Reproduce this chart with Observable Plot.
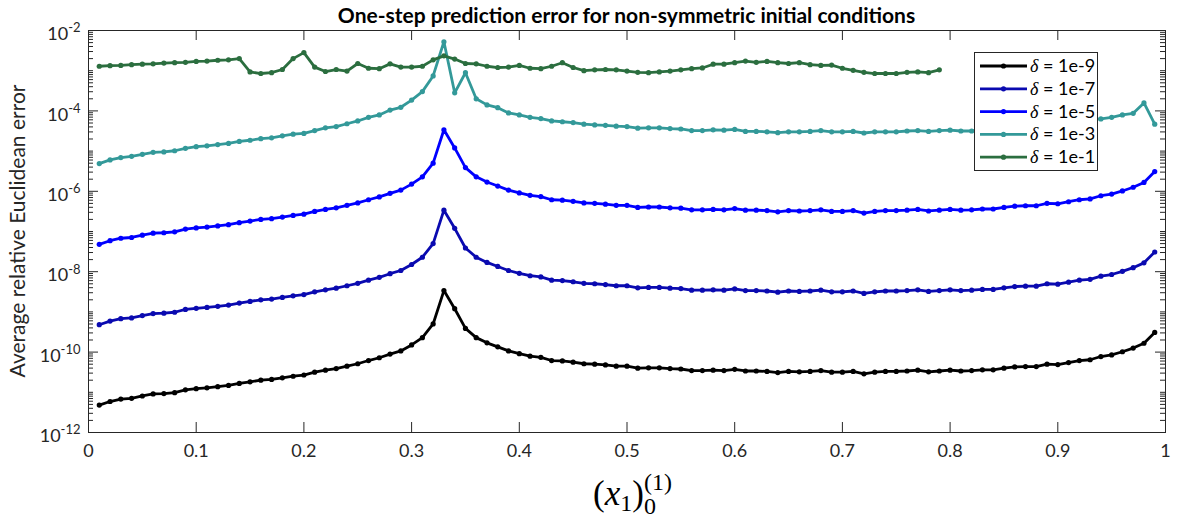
<!DOCTYPE html>
<html><head><meta charset="utf-8">
<script src="https://cdn.jsdelivr.net/npm/d3@7"></script>
<script src="https://cdn.jsdelivr.net/npm/@observablehq/plot@0.6"></script>
<style>
html,body{margin:0;padding:0;background:#fff;}
#chart{position:relative;width:1178px;height:517px;}
</style></head><body><div id="chart"></div>
<script>
// initial condition (x1)_0^(1)
const x0 = [0.01,0.02,0.03,0.04,0.05,0.06,0.07,0.08,0.09,0.10,0.11,0.12,0.13,0.14,0.15,0.16,0.17,0.18,0.19,0.20,
0.21,0.22,0.23,0.24,0.25,0.26,0.27,0.28,0.29,0.30,0.31,0.32,0.33,0.34,0.35,0.36,0.37,0.38,0.39,0.40,
0.41,0.42,0.43,0.44,0.45,0.46,0.47,0.48,0.49,0.50,0.51,0.52,0.53,0.54,0.55,0.56,0.57,0.58,0.59,0.60,
0.61,0.62,0.63,0.64,0.65,0.66,0.67,0.68,0.69,0.70,0.71,0.72,0.73,0.74,0.75,0.76,0.77,0.78,0.79,0.80,
0.81,0.82,0.83,0.84,0.85,0.86,0.87,0.88,0.89,0.90,0.91,0.92,0.93,0.94,0.95,0.96,0.97,0.98,0.99];

const err_1e9 = [4.8e-12,5.9e-12,6.8e-12,7.1e-12,8.1e-12,9.1e-12,9.3e-12,9.8e-12,1.15e-11,1.23e-11,
1.29e-11,1.38e-11,1.48e-11,1.66e-11,1.82e-11,2.0e-11,2.09e-11,2.29e-11,2.51e-11,2.69e-11,
3.16e-11,3.55e-11,3.89e-11,4.47e-11,5.13e-11,6.17e-11,7.24e-11,8.91e-11,1.07e-10,1.51e-10,
2.29e-10,5.01e-10,3.39e-9,1.2e-9,3.89e-10,2.29e-10,1.7e-10,1.35e-10,1.07e-10,9.12e-11,
7.94e-11,7.41e-11,6.17e-11,6.03e-11,5.62e-11,5.13e-11,5.01e-11,4.79e-11,4.47e-11,4.47e-11,
3.98e-11,4.07e-11,4.07e-11,3.89e-11,3.8e-11,3.47e-11,3.47e-11,3.55e-11,3.47e-11,3.72e-11,
3.39e-11,3.39e-11,3.31e-11,3.09e-11,3.31e-11,3.24e-11,3.31e-11,3.47e-11,3.16e-11,3.16e-11,
3.31e-11,2.88e-11,3.16e-11,3.31e-11,3.31e-11,3.39e-11,3.55e-11,3.24e-11,3.39e-11,3.55e-11,
3.39e-11,3.47e-11,3.63e-11,3.63e-11,3.98e-11,4.27e-11,4.37e-11,4.37e-11,5.01e-11,4.9e-11,
5.5e-11,6.17e-11,6.46e-11,7.76e-11,8.51e-11,1.02e-10,1.26e-10,1.66e-10,3.09e-10];

const err_1e7 = [4.8e-10,5.9e-10,6.8e-10,7.1e-10,8.1e-10,9.1e-10,9.3e-10,9.8e-10,1.15e-9,1.23e-9,
1.29e-9,1.38e-9,1.48e-9,1.66e-9,1.82e-9,2.0e-9,2.09e-9,2.29e-9,2.51e-9,2.69e-9,
3.16e-9,3.55e-9,3.89e-9,4.47e-9,5.13e-9,6.17e-9,7.24e-9,8.91e-9,1.07e-8,1.51e-8,
2.29e-8,5.01e-8,3.39e-7,1.2e-7,3.89e-8,2.29e-8,1.7e-8,1.35e-8,1.07e-8,9.12e-9,
7.94e-9,7.41e-9,6.17e-9,6.03e-9,5.62e-9,5.13e-9,5.01e-9,4.79e-9,4.47e-9,4.47e-9,
3.98e-9,4.07e-9,4.07e-9,3.89e-9,3.8e-9,3.47e-9,3.47e-9,3.55e-9,3.47e-9,3.72e-9,
3.39e-9,3.39e-9,3.31e-9,3.09e-9,3.31e-9,3.24e-9,3.31e-9,3.47e-9,3.16e-9,3.16e-9,
3.31e-9,2.88e-9,3.16e-9,3.31e-9,3.31e-9,3.39e-9,3.55e-9,3.24e-9,3.39e-9,3.55e-9,
3.39e-9,3.47e-9,3.63e-9,3.63e-9,3.98e-9,4.27e-9,4.37e-9,4.37e-9,5.01e-9,4.9e-9,
5.5e-9,6.17e-9,6.46e-9,7.76e-9,8.51e-9,1.02e-8,1.26e-8,1.66e-8,3.09e-8];

const err_1e5 = [4.8e-8,5.9e-8,6.8e-8,7.1e-8,8.1e-8,9.1e-8,9.3e-8,9.8e-8,1.15e-7,1.23e-7,
1.29e-7,1.38e-7,1.48e-7,1.66e-7,1.82e-7,2.0e-7,2.09e-7,2.29e-7,2.51e-7,2.69e-7,
3.16e-7,3.55e-7,3.89e-7,4.47e-7,5.13e-7,6.17e-7,7.24e-7,8.91e-7,1.07e-6,1.51e-6,
2.29e-6,5.01e-6,3.39e-5,1.2e-5,3.89e-6,2.29e-6,1.7e-6,1.35e-6,1.07e-6,9.12e-7,
7.94e-7,7.41e-7,6.17e-7,6.03e-7,5.62e-7,5.13e-7,5.01e-7,4.79e-7,4.47e-7,4.47e-7,
3.98e-7,4.07e-7,4.07e-7,3.89e-7,3.8e-7,3.47e-7,3.47e-7,3.55e-7,3.47e-7,3.72e-7,
3.39e-7,3.39e-7,3.31e-7,3.09e-7,3.31e-7,3.24e-7,3.31e-7,3.47e-7,3.16e-7,3.16e-7,
3.31e-7,2.88e-7,3.16e-7,3.31e-7,3.31e-7,3.39e-7,3.55e-7,3.24e-7,3.39e-7,3.55e-7,
3.39e-7,3.47e-7,3.63e-7,3.63e-7,3.98e-7,4.27e-7,4.37e-7,4.37e-7,5.01e-7,4.9e-7,
5.5e-7,6.17e-7,6.46e-7,7.76e-7,8.51e-7,1.02e-6,1.26e-6,1.66e-6,3.09e-6];

const err_1e3 = [4.9e-6,6.03e-6,6.92e-6,7.41e-6,8.32e-6,9.33e-6,9.55e-6,1.02e-5,1.17e-5,1.29e-5,
1.35e-5,1.45e-5,1.55e-5,1.74e-5,1.86e-5,2.04e-5,2.14e-5,2.4e-5,2.63e-5,2.75e-5,
3.24e-5,3.8e-5,4.07e-5,4.79e-5,5.62e-5,6.92e-5,7.94e-5,1.05e-4,1.23e-4,1.86e-4,
3.02e-4,7.41e-4,5.25e-3,2.82e-4,8.91e-4,2.0e-4,1.41e-4,1.2e-4,8.91e-5,7.94e-5,
6.92e-5,6.46e-5,5.62e-5,5.37e-5,5.13e-5,4.68e-5,4.47e-5,4.37e-5,4.17e-5,4.07e-5,
3.72e-5,3.8e-5,3.8e-5,3.63e-5,3.55e-5,3.24e-5,3.24e-5,3.39e-5,3.31e-5,3.47e-5,
3.09e-5,3.09e-5,3.02e-5,2.88e-5,3.02e-5,3.02e-5,3.09e-5,3.24e-5,3.02e-5,3.02e-5,
3.09e-5,2.82e-5,3.02e-5,3.02e-5,3.02e-5,3.16e-5,3.24e-5,3.09e-5,3.24e-5,3.31e-5,
3.16e-5,3.16e-5,3.63e-5,3.63e-5,3.98e-5,4.27e-5,4.37e-5,4.37e-5,5.01e-5,4.9e-5,
5.5e-5,5.89e-5,6.17e-5,6.31e-5,6.92e-5,7.94e-5,8.71e-5,1.58e-4,4.68e-5];

// delta = 1e-1 is only available up to x = 0.79
const err_1e1 = [1.29e-3,1.33e-3,1.35e-3,1.41e-3,1.45e-3,1.48e-3,1.55e-3,1.58e-3,1.62e-3,1.7e-3,
1.74e-3,1.82e-3,1.86e-3,2.0e-3,9.33e-4,8.51e-4,8.91e-4,1.07e-3,2.0e-3,2.82e-3,
1.23e-3,9.55e-4,1.07e-3,9.77e-4,1.51e-3,1.15e-3,1.12e-3,1.48e-3,1.23e-3,1.23e-3,
1.29e-3,1.86e-3,2.34e-3,1.95e-3,1.51e-3,1.48e-3,1.29e-3,1.2e-3,1.23e-3,1.35e-3,
1.15e-3,1.12e-3,1.29e-3,1.58e-3,1.2e-3,1.0e-3,1.05e-3,1.07e-3,1.05e-3,9.77e-4,
9.12e-4,8.91e-4,9.33e-4,9.77e-4,1.05e-3,1.12e-3,1.17e-3,1.45e-3,1.45e-3,1.58e-3,
1.74e-3,1.62e-3,1.7e-3,1.58e-3,1.51e-3,1.58e-3,1.41e-3,1.35e-3,1.38e-3,1.15e-3,
1.02e-3,9.12e-4,8.51e-4,8.51e-4,8.51e-4,9.12e-4,9.33e-4,8.91e-4,1.05e-3];

const seriesLabels = ["1e-9","1e-7","1e-5","1e-3","1e-1"];
const seriesColors = ["#000000","#0a0ab0","#0000ff","#339999","#2b6e3f"];
const seriesValues = [err_1e9, err_1e7, err_1e5, err_1e3, err_1e1];

const xTicks = [0,0.1,0.2,0.3,0.4,0.5,0.6,0.7,0.8,0.9,1];
const yTicks = [1e-12,1e-10,1e-8,1e-6,1e-4,1e-2];

const titleText = "One-step prediction error for non-symmetric initial conditions";
const yLabelText = "Average relative Euclidean error";

const W = 1178, H = 517, ML = 88, MR = 13, MT = 30, MB = 85;
const PW = W - ML - MR, PH = H - MT - MB;
const AX = "#262626";

// minor ticks of the log axis
const yMinor = [];
for (let e = -12; e < -2; e++) for (let k = 1; k <= 9; k++) { const v = k * Math.pow(10, e); if (!(k === 1 && e % 2 === 0)) yMinor.push(v); }

const marks = [];
seriesValues.forEach((vals, si) => {
  const data = vals.map((v, i) => ({x: x0[i], y: v}));
  marks.push(Plot.line(data, {x: "x", y: "y", stroke: seriesColors[si], strokeWidth: 2.8}));
  marks.push(Plot.dot(data, {x: "x", y: "y", fill: seriesColors[si], r: 2.6}));
});
marks.push(Plot.tickY(yMinor, {stroke: AX, insetRight: PW - 5}));
marks.push(Plot.tickY(yMinor, {stroke: AX, insetLeft: PW - 5}));
marks.push(Plot.tickY(yTicks, {stroke: AX, insetRight: PW - 10}));
marks.push(Plot.tickY(yTicks, {stroke: AX, insetLeft: PW - 10}));
marks.push(Plot.tickX(xTicks, {stroke: AX, insetTop: PH - 10}));
marks.push(Plot.tickX(xTicks, {stroke: AX, insetBottom: PH - 10}));
marks.push(Plot.frame({stroke: AX, strokeWidth: 1}));

const chart = Plot.plot({
  width: W, height: H,
  marginLeft: ML, marginRight: MR, marginTop: MT, marginBottom: MB,
  style: {fontFamily: "Lato, 'Noto Sans', sans-serif", fontSize: "18px", color: AX, background: "#fff", overflow: "visible"},
  x: {domain: [0, 1], ticks: xTicks, tickSize: 0, tickPadding: 12, label: null,
      tickFormat: d => (d === 0 || d === 1) ? String(d) : d.toFixed(1)},
  y: {type: "log", domain: [1e-12, 1e-2], ticks: yTicks, tickSize: 0, tickPadding: 8, label: null,
      tickFormat: d => "10|" + Math.round(Math.log10(d))},
  marks
});
document.getElementById("chart").appendChild(chart);

const svg = d3.select(chart);
// superscript exponents on y tick labels
svg.selectAll('g[aria-label="y-axis tick label"] text').each(function() {
  const t = d3.select(this);
  const parts = t.text().split("|");
  t.text(parts[0]).attr("dy", "0.22em");
  t.append("tspan").attr("dy", "-0.6em").attr("font-size", "13px").text(parts[1]);
});

// title
svg.append("text").attr("x", ML + PW / 2).attr("y", 23).attr("text-anchor", "middle")
  .attr("font-family", "Lato, sans-serif").attr("font-weight", "bold").attr("font-size", "21px")
  .attr("fill", "#000").text(titleText);

// y label
svg.append("text").attr("transform", `translate(25,${MT + PH / 2}) rotate(-90)`).attr("text-anchor", "middle")
  .attr("font-family", "Lato, sans-serif").attr("font-size", "21px").attr("fill", AX).text(yLabelText);

// x label (x_1)_0^(1)
const xl = svg.append("text").attr("x", ML + PW / 2 + 6).attr("y", 505).attr("text-anchor", "middle")
  .attr("font-family", "'Liberation Serif', 'DejaVu Serif', serif").attr("font-size", "35px").attr("fill", "#000");
xl.append("tspan").text("(");
xl.append("tspan").attr("font-style", "italic").text("x");
xl.append("tspan").attr("font-size", "24px").attr("dy", 6).text("1");
xl.append("tspan").attr("dy", -6).text(")");
xl.append("tspan").attr("font-size", "24px").attr("dy", 9).text("0");
xl.append("tspan").attr("font-size", "24px").attr("dx", -12).attr("dy", -24).text("(1)");

// legend
const lg = svg.append("g").attr("text-anchor", "start");
lg.append("rect").attr("x", 974.5).attr("y", 52.5).attr("width", 123).attr("height", 118)
  .attr("fill", "#fff").attr("stroke", AX).attr("stroke-width", 1);
seriesLabels.forEach((lab, i) => {
  const cy = 66 + i * 22.8;
  lg.append("line").attr("x1", 980).attr("x2", 1027).attr("y1", cy).attr("y2", cy)
    .attr("stroke", seriesColors[i]).attr("stroke-width", 2.8);
  lg.append("circle").attr("cx", 1003.5).attr("cy", cy).attr("r", 2.6).attr("fill", seriesColors[i]);
  const t = lg.append("text").attr("x", 1030).attr("y", cy + 6).attr("text-anchor", "start")
    .attr("font-family", "Lato, sans-serif").attr("font-size", "18px").attr("fill", "#000");
  t.append("tspan").attr("font-family", "'Liberation Serif', serif").attr("font-style", "italic").text("δ");
  t.append("tspan").text(" = " + lab);
});
</script>
</body></html>
